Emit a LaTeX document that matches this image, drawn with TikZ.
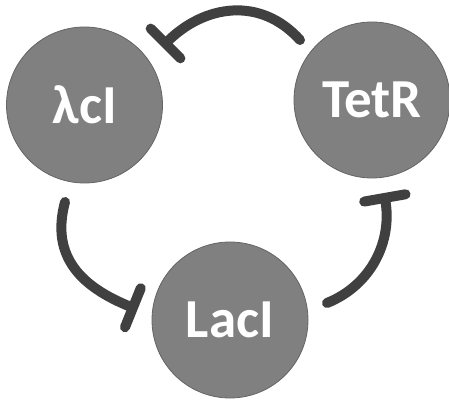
\documentclass[tikz,border=0pt]{standalone}
\usepackage{fontspec}
\setmainfont{Carlito}
\usetikzlibrary{arrows.meta,calc}

\definecolor{protfill}{RGB}{128,128,128}
\definecolor{protline}{RGB}{100,100,100}
\definecolor{repline}{RGB}{64,64,64}

\begin{document}
\begin{tikzpicture}[x=1pt,y=1pt,
    protein/.style={circle,minimum size=156pt,inner sep=0pt,
      fill=protfill,draw=protline,line width=0.8pt,
      text=white,font=\fontsize{55}{60}\selectfont\bfseries},
    repress/.style={repline,line width=10pt,line cap=round,
      -{Bar[width=42pt,round]}}
   ]
\useasboundingbox (0,0) rectangle (449,401);

% the three repressors
\node[protein] (lam)  at (84.5,296) {λcI};
\node[protein] (tetr) at (372,301)  {TetR};
\node[protein] (laci) at (230,81)   {LacI};

% loose ends of the repression arcs
\coordinate (tetr-out) at ($(tetr)+(-72,60)$);
\coordinate (lam-in)   at ($(lam)+(77.5,58)$);
\coordinate (lam-out)  at ($(lam)+(-19.5,-97)$);
\coordinate (laci-in)  at ($(laci)+(-92.5,10.4)$);
\coordinate (laci-out) at ($(laci)+(97,17)$);
\coordinate (tetr-in)  at ($(tetr)+(12,-93)$);

% TetR -| lambda cI -| LacI -| TetR
\draw[repress] (tetr-out) to[out=132,in=45,looseness=1.1] (lam-in);
\draw[repress] (lam-out) to[out=255,in=158,looseness=1.15] (laci-in);
\draw[repress] (laci-out) to[out=22,in=-80,looseness=1.0] (tetr-in);
\end{tikzpicture}
\end{document}
